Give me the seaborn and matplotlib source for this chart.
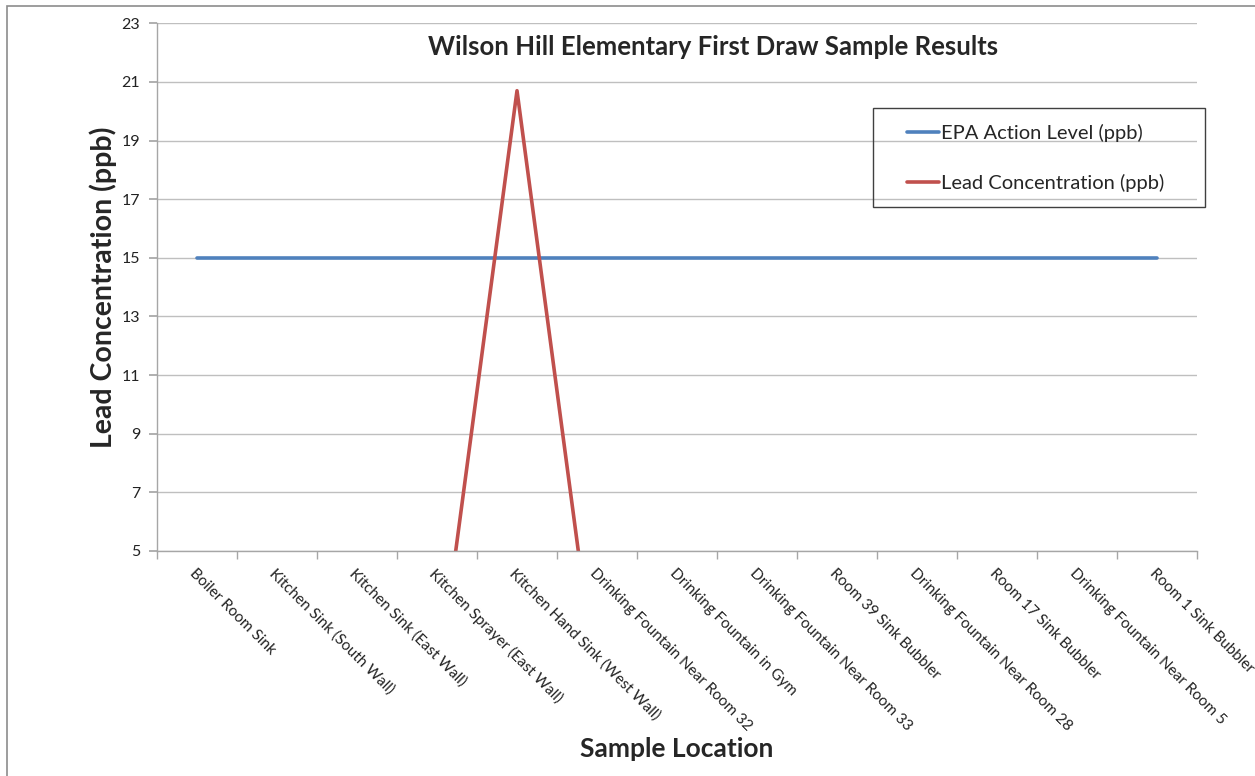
import pandas as pd
import matplotlib
matplotlib.use("Agg")
import matplotlib.pyplot as plt
from matplotlib.patches import Rectangle
from matplotlib.ticker import FixedLocator
import seaborn as sns

locations = [
    "Boiler Room Sink",
    "Kitchen Sink (South Wall)",
    "Kitchen Sink (East Wall)",
    "Kitchen Sprayer (East Wall)",
    "Kitchen Hand Sink (West Wall)",
    "Drinking Fountain Near Room 32",
    "Drinking Fountain in Gym",
    "Drinking Fountain Near Room 33",
    "Room 39 Sink Bubbler",
    "Drinking Fountain Near Room 28",
    "Room 17 Sink Bubbler",
    "Drinking Fountain Near Room 5",
    "Room 1 Sink Bubbler",
]
epa_level = [15, 15, 15, 15, 15, 15, 15, 15, 15, 15, 15, 15, 15]
# values below 5 ppb are off the chart; only the shape near the peak is readable
lead_ppb = [0, 0, 0, 0.2, 20.7, 0.2, 0, 0, 0, 0, 0, 0, 0]
y_ticks = [5, 7, 9, 11, 13, 15, 17, 19, 21, 23]

series_names = ["EPA Action Level (ppb)", "Lead Concentration (ppb)"]
df = pd.concat([
    pd.DataFrame({"location": locations, "value": epa_level, "series": series_names[0]}),
    pd.DataFrame({"location": locations, "value": lead_ppb, "series": series_names[1]}),
])

sns.set_theme(style="white")
plt.rcParams["font.family"] = ["Lato", "DejaVu Sans"]

fig = plt.figure(figsize=(12.55, 7.76), dpi=100)
ax = fig.add_axes([0.125, 0.29, 0.829, 0.680])

sns.lineplot(data=df, x="location", y="value", hue="series", sort=False,
             palette={series_names[0]: "#4F81BD", series_names[1]: "#C0504D"},
             linewidth=2.6, ax=ax)

ax.set_ylim(5, 23)
ax.set_yticks(y_ticks)
ax.set_xlim(-0.5, len(locations) - 0.5)
ax.yaxis.grid(True, color="#BFBFBF", linewidth=1)
ax.xaxis.grid(False)

for s in ["top", "right"]:
    ax.spines[s].set_visible(False)
for s in ["left", "bottom"]:
    ax.spines[s].set_color("#A6A6A6")
    ax.spines[s].set_linewidth(1)

ax.set_xticks(range(len(locations)))
ax.set_xticklabels(locations, rotation=-45, ha="left", rotation_mode="anchor",
                   fontsize=11, color="#222222")
ax.tick_params(axis="x", which="major", length=0, pad=11)
ax.xaxis.set_minor_locator(FixedLocator([i - 0.5 for i in range(len(locations) + 1)]))
ax.tick_params(axis="x", which="minor", length=6, color="#A6A6A6", direction="out", bottom=True)
ax.tick_params(axis="y", length=6, color="#A6A6A6", direction="out", left=True,
               labelsize=11.5, labelcolor="#222222", pad=6)

ax.set_xlabel("Sample Location", fontsize=19, fontweight="bold", labelpad=0)
ax.xaxis.set_label_coords(0.5, -0.352)
ax.set_ylabel("Lead Concentration (ppb)", fontsize=20.5, fontweight="bold", labelpad=0)
ax.yaxis.set_label_coords(-0.038, 0.5)

fig.text(0.568, 0.939, "Wilson Hill Elementary First Draw Sample Results",
         ha="center", va="center", fontsize=18.5, fontweight="bold")

leg = ax.legend(loc="upper left", bbox_to_anchor=(907 / 1255, 1 - 124 / 776),
                bbox_transform=fig.transFigure, fontsize=14.5, frameon=False,
                handlelength=1.6, handletextpad=0.1, labelspacing=1.58,
                borderpad=0, borderaxespad=0, title=None)
for line in leg.get_lines():
    line.set_linewidth(2.6)

# legend box is wider than its content, as in the source chart
fig.patches.append(Rectangle((873 / 1255, 1 - 207 / 776), 332 / 1255, 99 / 776,
                             transform=fig.transFigure, facecolor="none",
                             edgecolor="#404040", linewidth=1, zorder=5))

fig.patches.append(Rectangle((7 / 1255, -0.05), 1.2, 1 - 6 / 776 + 0.05,
                             transform=fig.transFigure, fill=False,
                             edgecolor="#8C8C8C", linewidth=1.2))

fig.savefig("out.png", dpi=100)
